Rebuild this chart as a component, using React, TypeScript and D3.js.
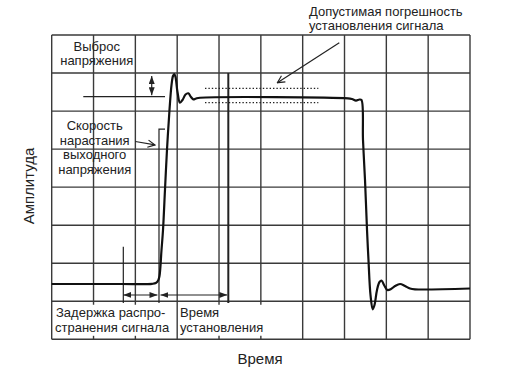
import * as d3 from "d3";

const W = 509;
const H = 373;

// grid is 10 time divisions by 8 amplitude divisions
const gridCols = [0, 1, 2, 3, 4, 5, 6, 7, 8, 9, 10];
const gridRows = [0, 1, 2, 3, 4, 5, 6, 7, 8];
// these columns are hidden behind the label band of the bottom row
const cutCols = [1, 2, 4, 5];

// output signal (time, amplitude), both in grid divisions
const signalTime = [
  0, 1.63, 2.4, 2.49, 2.545, 2.577, 2.625, 2.661, 2.708, 2.756, 2.816, 2.864, 2.9, 2.931,
  2.96, 3.007, 3.067, 3.127, 3.199, 3.266, 3.33, 3.385, 3.45, 3.545, 7.083, 7.179, 7.274,
  7.358, 7.406, 7.442, 7.49, 7.538, 7.573, 7.621, 7.674, 7.717, 7.777, 7.837, 7.89, 7.945,
  8.024, 8.112, 8.208, 8.327, 8.447, 8.566, 8.686, 10,
];
const signalLevel = [
  1.454, 1.454, 1.459, 1.48, 1.546, 1.664, 2.347, 2.873, 3.925, 4.976, 6.028, 6.685, 6.922,
  6.974, 6.895, 6.501, 6.22, 6.291, 6.435, 6.467, 6.37, 6.309, 6.33, 6.351, 6.335, 6.317,
  6.277, 6.304, 6.291, 5.239, 4.188, 2.873, 2.085, 1.165, 0.789, 0.902, 1.296, 1.506, 1.54,
  1.427, 1.296, 1.322, 1.401, 1.454, 1.401, 1.335, 1.314, 1.335,
];

// annotation positions, grid divisions
const steadyLevel = 6.378;
const steadyFrom = 0.755;
const steadyTo = 2.709;
const overshootX = 2.391;
const overshootTop = 6.922;
const toleranceBand = [6.598, 6.22];
const toleranceFrom = 3.665;
const toleranceTo = 6.374;
const delayStart = 1.712;
const riseMark = 2.565;
const settleMark = 4.222;
const markerBottom = 0.954;
const spanArrowLevel = 1.165;

const font = "'Liberation Sans', Arial, Helvetica, sans-serif";
const ink = "#222";
const gridInk = "#3a3a3a";

export default function App() {
  const x = d3.scaleLinear().domain([0, 10]).range([51.7, 470]);
  const y = d3.scaleLinear().domain([0, 8]).range([339.3, 35]);

  const points: [number, number][] = signalTime.map((t, i) => [t, signalLevel[i]]);
  const line = d3
    .line<[number, number]>()
    .x((d) => x(d[0]))
    .y((d) => y(d[1]))
    .curve(d3.curveCatmullRom.alpha(0.5));

  return (
    <svg
      width={W}
      height={H}
      style={{ position: "absolute", left: 0, top: 0, background: "#fff" }}
    >
      <defs>
        <marker
          id="tri"
          viewBox="0 0 8 6"
          refX={8}
          refY={3}
          markerWidth={8}
          markerHeight={6}
          markerUnits="userSpaceOnUse"
          orient="auto-start-reverse"
        >
          <path d="M0,0 L8,3 L0,6 Z" fill={ink} />
        </marker>
        <marker
          id="vee"
          viewBox="0 0 10 10"
          refX={9}
          refY={5}
          markerWidth={9}
          markerHeight={9}
          markerUnits="userSpaceOnUse"
          orient="auto"
        >
          <path d="M1,1 L9,5 L1,9" fill="none" stroke={ink} strokeWidth={1.3} />
        </marker>
      </defs>

      {/* grid */}
      <g stroke={gridInk} strokeWidth={1.4}>
        {gridRows.map((r) => (
          <line key={"r" + r} x1={x(0)} x2={x(10)} y1={y(r)} y2={y(r)} />
        ))}
        {gridCols.map((c) =>
          cutCols.includes(c) ? (
            <g key={"c" + c}>
              <line x1={x(c)} x2={x(c)} y1={y(8)} y2={y(1) + 3.5} />
              <line x1={x(c)} x2={x(c)} y1={y(0) - 3.5} y2={y(0)} />
            </g>
          ) : (
            <line key={"c" + c} x1={x(c)} x2={x(c)} y1={y(8)} y2={y(0)} />
          )
        )}
      </g>

      {/* markers */}
      <g stroke={ink} strokeWidth={1.2} fill="none">
        <line x1={x(steadyFrom)} x2={x(steadyTo)} y1={y(steadyLevel)} y2={y(steadyLevel)} />
        <line
          x1={x(overshootX)}
          x2={x(overshootX)}
          y1={y(overshootTop)}
          y2={y(steadyLevel) - 1.5}
          markerStart="url(#tri)"
          markerEnd="url(#tri)"
        />
        {toleranceBand.map((v) => (
          <line
            key={v}
            x1={x(toleranceFrom)}
            x2={x(toleranceTo)}
            y1={y(v)}
            y2={y(v)}
            strokeDasharray="1.4 2"
          />
        ))}
        <line x1={x(delayStart)} x2={x(delayStart)} y1={y(2.434)} y2={y(markerBottom)} />
        <polyline
          points={`${x(steadyTo)},${y(5.528)} ${x(riseMark)},${y(5.528)} ${x(riseMark)},${y(markerBottom)}`}
        />
        <line
          x1={x(settleMark)}
          x2={x(settleMark)}
          y1={y(7)}
          y2={y(markerBottom)}
          strokeWidth={2}
        />
        <line
          x1={x(delayStart)}
          x2={x(riseMark) - 1.5}
          y1={y(spanArrowLevel)}
          y2={y(spanArrowLevel)}
          markerStart="url(#tri)"
          markerEnd="url(#tri)"
        />
        <line
          x1={x(riseMark) + 1.5}
          x2={x(settleMark) - 1}
          y1={y(spanArrowLevel)}
          y2={y(spanArrowLevel)}
          markerStart="url(#tri)"
          markerEnd="url(#tri)"
        />
        <line x1={x(2.0)} x2={x(2.47)} y1={y(5.2)} y2={y(5.11)} markerEnd="url(#vee)" />
        <line x1={x(6.875)} x2={x(5.395)} y1={y(7.797)} y2={y(6.746)} markerEnd="url(#vee)" />
      </g>

      {/* signal */}
      <path d={line(points) ?? ""} fill="none" stroke="#111" strokeWidth={2.2} strokeLinejoin="round" />

      {/* labels */}
      <g fontFamily={font} fontSize={13} fill={ink}>
        <text x={96.7} y={51} textAnchor="middle">Выброс</text>
        <text x={96.7} y={65} textAnchor="middle">напряжения</text>
        <text x={94.7} y={130} textAnchor="middle">Скорость</text>
        <text x={94.7} y={144.5} textAnchor="middle">нарастания</text>
        <text x={94.7} y={159} textAnchor="middle">выходного</text>
        <text x={94.7} y={173.5} textAnchor="middle">напряжения</text>
        <text x={309} y={15.5}>Допустимая погрешность</text>
        <text x={309} y={29.5}>установления сигнала</text>
        <text x={56} y={316.7}>Задержка распро-</text>
        <text x={55} y={331.7}>странения сигнала</text>
        <text x={180} y={316.7}>Время</text>
        <text x={180} y={331.7}>установления</text>
      </g>
      <text x={260} y={363.5} textAnchor="middle" fontFamily={font} fontSize={15} fill={ink}>
        Время
      </text>
      <text
        transform="translate(34,186) rotate(-90)"
        textAnchor="middle"
        fontFamily={font}
        fontSize={15}
        fill={ink}
      >
        Амплитуда
      </text>
    </svg>
  );
}
